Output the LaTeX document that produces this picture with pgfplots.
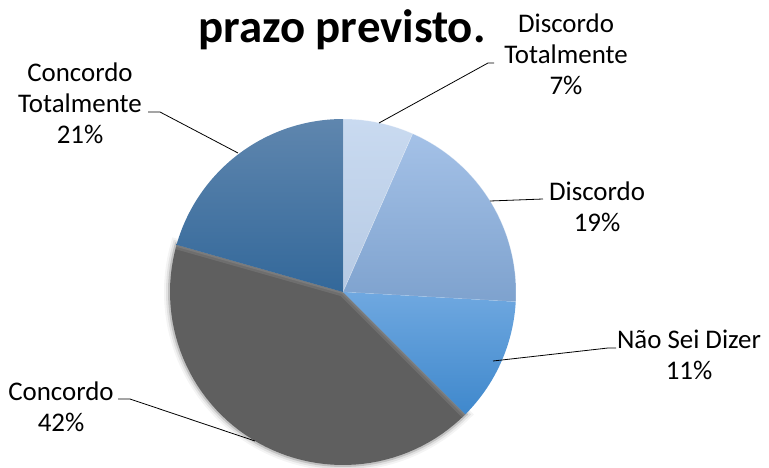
\documentclass[border=0pt]{standalone}
\usepackage{fontspec}
\setmainfont{Carlito}
\usepackage{pgfplots}
\pgfplotsset{compat=1.18}

\definecolor{dtTop}{HTML}{C9DAF0}
\definecolor{dtBot}{HTML}{B6CAE4}
\definecolor{dTop}{HTML}{A4C1E7}
\definecolor{dBot}{HTML}{7EA2CE}
\definecolor{nsTop}{HTML}{6FA8E0}
\definecolor{nsBot}{HTML}{3F88CC}
\definecolor{cGray}{HTML}{5F5F5F}
\definecolor{cEdge}{HTML}{8C8C8C}
\definecolor{ctTop}{HTML}{5F86AE}
\definecolor{ctBot}{HTML}{33689A}

% anchor=base puts the last line's baseline at the given point
\tikzset{lbl/.style={font=\fontsize{27}{31}\selectfont, align=center, anchor=base, inner sep=0pt}}

% shares in percent, clockwise from 12 o'clock
\def\pA{6.6}  % Discordo Totalmente
\def\pB{19.3} % Discordo
\def\pC{11.6} % Nao Sei Dizer
\def\pD{41.9} % Concordo
\def\pE{20.6} % Concordo Totalmente

% centre and radius in picture pixels
\def\cx{343}\def\cy{292}\def\R{173}

\pgfmathsetmacro\aA{3.6*\pA}
\pgfmathsetmacro\aB{\aA+3.6*\pB}
\pgfmathsetmacro\aC{\aB+3.6*\pC}
\pgfmathsetmacro\aD{\aC+3.6*\pD}
\pgfmathsetmacro\aE{\aD+3.6*\pE}

\begin{document}
\begin{tikzpicture}
\begin{axis}[
    width=769bp, height=468bp, scale only axis,
    xmin=0, xmax=769, ymin=0, ymax=468,
    y dir=reverse,
    hide axis,
    variable=\t, samples=60,
]
% Concordo: soft edge first, then the fill
\addplot[draw=cGray, line width=12bp, opacity=0.07, domain=\aC:\aD] ({\cx+\R*sin(\t)},{\cy-\R*cos(\t)}) -- (\cx,\cy) -- cycle;
\addplot[draw=cGray, line width=8bp, opacity=0.12, domain=\aC:\aD] ({\cx+\R*sin(\t)},{\cy-\R*cos(\t)}) -- (\cx,\cy) -- cycle;
\addplot[draw=cGray, line width=4bp, opacity=0.25, domain=\aC:\aD] ({\cx+\R*sin(\t)},{\cy-\R*cos(\t)}) -- (\cx,\cy) -- cycle;
\addplot[fill=cGray, draw=none, domain=\aC:\aD] ({\cx+\R*sin(\t)},{\cy-\R*cos(\t)}) -- (\cx,\cy) -- cycle;
\draw[cEdge, line width=9bp, opacity=0.35] ({\cx+\R*sin(\aC)},{\cy-\R*cos(\aC)}) -- (\cx,\cy) -- ({\cx+\R*sin(\aD)},{\cy-\R*cos(\aD)});
\draw[cEdge, line width=4bp, opacity=0.45] ({\cx+\R*sin(\aC)},{\cy-\R*cos(\aC)}) -- (\cx,\cy) -- ({\cx+\R*sin(\aD)},{\cy-\R*cos(\aD)});

% blue slices
\addplot[top color=dtTop, bottom color=dtBot, draw=white, draw opacity=0.4, line width=0.5bp, domain=0:\aA] ({\cx+\R*sin(\t)},{\cy-\R*cos(\t)}) -- (\cx,\cy) -- cycle;
\addplot[top color=dTop, bottom color=dBot, draw=white, draw opacity=0.4, line width=0.5bp, domain=\aA:\aB] ({\cx+\R*sin(\t)},{\cy-\R*cos(\t)}) -- (\cx,\cy) -- cycle;
\addplot[top color=nsTop, bottom color=nsBot, draw=none, domain=\aB:\aC] ({\cx+\R*sin(\t)},{\cy-\R*cos(\t)}) -- (\cx,\cy) -- cycle;
\addplot[top color=ctTop, bottom color=ctBot, draw=none, domain=\aD:\aE] ({\cx+\R*sin(\t)},{\cy-\R*cos(\t)}) -- (\cx,\cy) -- cycle;

% title (upper line falls outside the picture)
\node[font=\fontsize{47}{56}\selectfont\bfseries, anchor=base, inner sep=0pt] at (342,43) {prazo previsto.};

% leader lines
\draw[black, line width=0.8bp] (379,123) -- (488,63) -- (494,63);
\draw[black, line width=0.8bp] (490,201) -- (543,199);
\draw[black, line width=0.8bp] (493,361) -- (608,348) -- (616,348);
\draw[black, line width=0.8bp] (118,399) -- (130,399) -- (255,441);
\draw[black, line width=0.8bp] (148,112) -- (160,112) -- (238,153);

% labels
\node[lbl] at (566,94) {Discordo\\Totalmente\\7\%};
\node[lbl] at (597,231) {Discordo\\19\%};
\node[lbl] at (689,379) {Não Sei Dizer\\11\%};
\node[lbl] at (61,431) {Concordo\\42\%};
\node[lbl] at (80,143) {Concordo\\Totalmente\\21\%};
\end{axis}
\pgfresetboundingbox
\useasboundingbox (current axis.south west) rectangle (current axis.north east);
\end{tikzpicture}
\end{document}
